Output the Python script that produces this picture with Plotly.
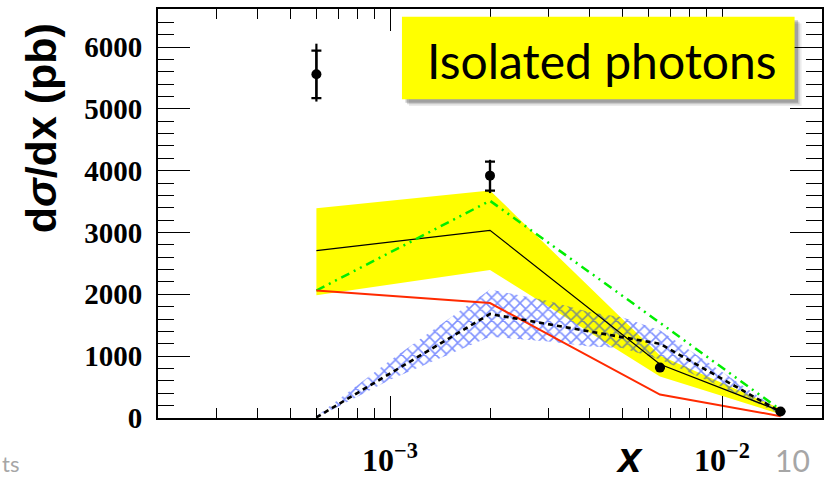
import numpy as np
import plotly.graph_objects as go

# ---------------- data ----------------
x_pts = [6e-4, 2e-3, 6.5e-3, 1.5e-2]
data_y = [5560, 3920, 815, 105]
stat_up = [383, 228, 0, 0]
stat_dn = [388, 244, 0, 0]
tot_up = [494, 256, 0, 0]
tot_dn = [442, 282, 0, 0]

solid_black = [2708, 3035, 870, 110]
band_lo = [1987, 2393, 670, 60]
band_hi = [3391, 3681, 1010, 150]
green_dd = [2062, 3513, 1540, 132]
red_line = [2062, 1860, 379, 30]
dashed_black = [10, 1683, 1200, 100]

hatch_x = [6e-4, 1e-3, 2e-3, 3e-3, 4e-3, 5e-3, 6.5e-3, 1e-2, 1.5e-2]
hatch_hi = [30, 930, 2077, 1893, 1710, 1631, 1420, 740, 110]
hatch_lo = [0, 620, 1315, 1236, 1157, 1131, 946, 500, 60]

y_ticks = [0, 1000, 2000, 3000, 4000, 5000, 6000]
x_ticks = [1e-3, 1e-2]
x_ticklabels = ["<b>10<sup>\u22123</sup></b>", "<b>10<sup>\u22122</sup></b>"]
x_minor = [2e-4, 3e-4, 4e-4, 5e-4, 6e-4, 7e-4, 8e-4, 9e-4,
           2e-3, 3e-3, 4e-3, 5e-3, 6e-3, 7e-3, 8e-3, 9e-3, 2e-2]

# ---------------- layout geometry (pixels) ----------------
W, H = 831, 485
L, R, T, B = 158, 7, 7, 58
PW, PH = W - L - R, H - T - B


def px(x):
    return (x - L) / PW


def py(y):
    return (H - B - y) / PH


fig = go.Figure()

# yellow band
fig.add_trace(go.Scatter(
    x=x_pts + x_pts[::-1], y=band_hi + band_lo[::-1],
    fill="toself", fillcolor="#ffff00", line=dict(width=0),
    mode="lines", hoverinfo="skip", showlegend=False))

# blue cross-hatched band
fig.add_trace(go.Scatter(
    x=hatch_x + hatch_x[::-1], y=hatch_hi + hatch_lo[::-1],
    fill="toself", fillcolor="rgba(0,0,0,0)", line=dict(width=0),
    fillpattern=dict(shape="x", fgcolor="#0022ff", bgcolor="rgba(0,0,0,0)",
                     size=8, solidity=0.35),
    mode="lines", hoverinfo="skip", showlegend=False))

# black solid
fig.add_trace(go.Scatter(x=x_pts, y=solid_black, mode="lines",
                         line=dict(color="black", width=1.2), showlegend=False))
# green dash-dot-dot
fig.add_trace(go.Scatter(x=x_pts, y=green_dd, mode="lines",
                         line=dict(color="#00ee00", width=2.5,
                                   dash="9px,5px,2px,5px,2px,5px"),
                         showlegend=False))
# red
fig.add_trace(go.Scatter(x=x_pts, y=red_line, mode="lines",
                         line=dict(color="#ff2a00", width=2), showlegend=False))
# black dashed
fig.add_trace(go.Scatter(x=x_pts, y=dashed_black, mode="lines",
                         line=dict(color="black", width=2.6, dash="5px,4px"),
                         showlegend=False))

# data: total errors (no caps)
fig.add_trace(go.Scatter(
    x=x_pts, y=data_y, mode="markers",
    marker=dict(color="black", size=1),
    error_y=dict(type="data", symmetric=False, array=tot_up, arrayminus=tot_dn,
                 thickness=2.2, width=0, color="black"),
    showlegend=False))
# data: inner errors with caps
fig.add_trace(go.Scatter(
    x=x_pts, y=data_y, mode="markers",
    marker=dict(color="black", size=10, symbol="circle"),
    error_y=dict(type="data", symmetric=False, array=stat_up, arrayminus=stat_dn,
                 thickness=2.2, width=5, color="black"),
    showlegend=False))

fig.update_xaxes(
    type="log", range=[np.log10(2e-4), np.log10(0.02)],
    tickmode="array", tickvals=x_ticks, ticktext=x_ticklabels,
    ticks="inside", ticklen=22, tickwidth=1, tickcolor="black",
    showline=True, linewidth=2, linecolor="black", mirror="ticks",
    showgrid=False, zeroline=False,
    tickfont=dict(family="Liberation Serif", size=32, color="black"),
    ticklabelstandoff=13,
    minor=dict(ticks="inside", ticklen=10, tickwidth=1, tickcolor="black",
               tickmode="array", tickvals=x_minor, showgrid=False))

fig.update_yaxes(
    range=[0, 6615],
    tickmode="array", tickvals=y_ticks, ticktext=["<b>%d</b>" % v for v in y_ticks],
    ticks="inside", ticklen=32, tickwidth=1, tickcolor="black",
    showline=True, linewidth=2, linecolor="black", mirror="ticks",
    showgrid=False, zeroline=False,
    tickfont=dict(family="Liberation Serif", size=29, color="black"),
    ticklabelstandoff=8,
    minor=dict(ticks="inside", ticklen=16, tickwidth=1, tickcolor="black",
               dtick=200, showgrid=False))

shapes = []
# box shadow (soft)
bx0, bx1, by0, by1 = 402.7, 796.5, 15.0, 99.7
for off, op in [(7, 0.08), (5, 0.14), (3.5, 0.2)]:
    shapes.append(dict(type="rect", xref="paper", yref="paper",
                       x0=px(bx0 + off), x1=px(bx1 + off),
                       y0=py(by1 + off), y1=py(by0 + off),
                       fillcolor="rgba(0,0,0,%g)" % op, line=dict(width=0),
                       layer="above"))
shapes.append(dict(type="rect", xref="paper", yref="paper",
                   x0=px(bx0), x1=px(bx1), y0=py(by1), y1=py(by0),
                   fillcolor="#ffff00", line=dict(width=0), layer="above"))

annotations = [
    dict(text="Isolated photons", xref="paper", yref="paper",
         x=px(603.5), y=py(60), xanchor="center", yanchor="middle",
         showarrow=False, font=dict(family="Lato", size=48, color="black")),
    dict(text="<b>d<i>\u03c3</i>/dx (pb)</b>", xref="paper", yref="paper",
         x=px(40), y=py(129), xanchor="center", yanchor="middle",
         textangle=-90, showarrow=False,
         font=dict(family="Liberation Sans", size=43, color="black")),
    dict(text="<b><i>x</i></b>", xref="paper", yref="paper",
         x=px(631), y=py(468), xanchor="center", yanchor="middle",
         showarrow=False,
         font=dict(family="Liberation Sans", size=42, color="black")),
    dict(text="10", xref="paper", yref="paper",
         x=px(794), y=py(470), xanchor="center", yanchor="middle",
         showarrow=False, font=dict(family="Lato", size=30, color="#a6a6a6")),
    dict(text="ts", xref="paper", yref="paper",
         x=px(0), y=py(474), xanchor="left", yanchor="middle",
         showarrow=False, font=dict(family="Lato", size=22, color="#a6a6a6")),
]

fig.update_layout(
    width=W, height=H,
    margin=dict(l=L, r=R, t=T, b=B),
    plot_bgcolor="white", paper_bgcolor="white",
    showlegend=False, shapes=shapes, annotations=annotations)

fig.write_html("out.html")
